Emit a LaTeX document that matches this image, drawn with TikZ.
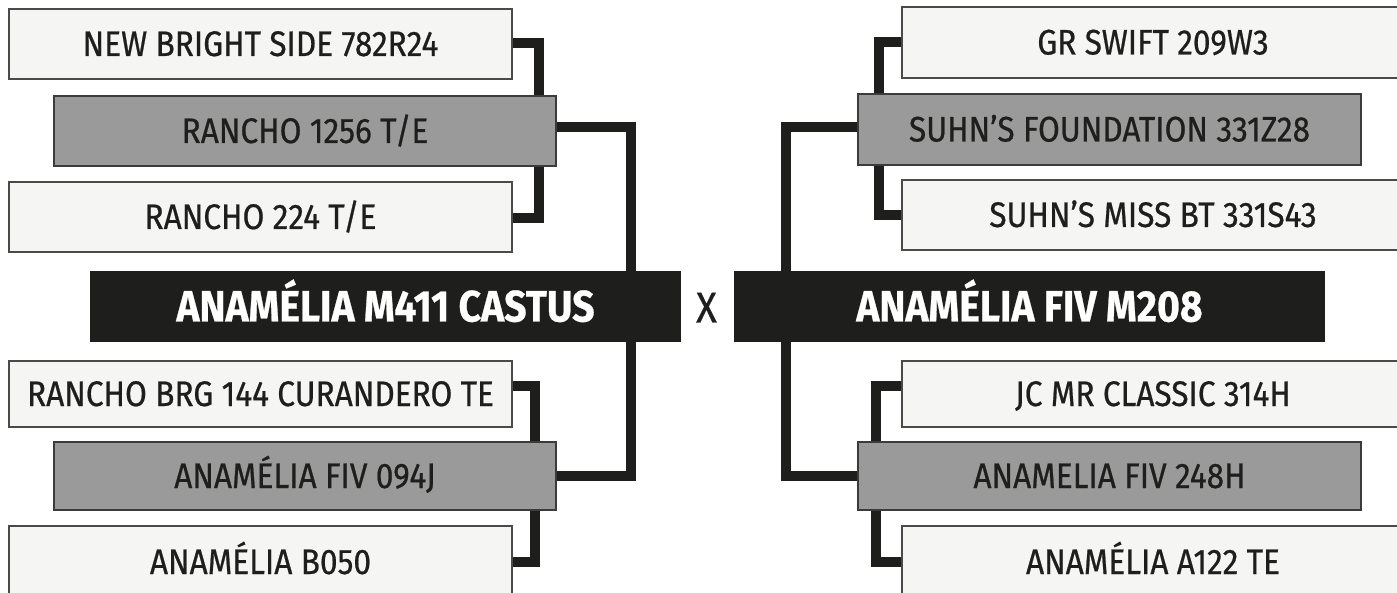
\documentclass[tikz,border=0pt]{standalone}
\usepackage{fontspec}
\setmainfont{Fira Sans}[FakeStretch=0.89, FakeBold=0.6]
\usetikzlibrary{backgrounds}
\definecolor{lightfill}{HTML}{F5F5F3}
\definecolor{grayfill}{HTML}{9A9A9A}
\definecolor{inkblack}{HTML}{1E1E1C}
\definecolor{edgegray}{HTML}{4A4A4A}
\tikzset{
  boxbase/.style={rectangle, inner sep=0pt, text height=24pt, text depth=0pt,
    font=\fontsize{35.5}{38}\selectfont, text=inkblack, line width=1.3pt},
  lightbox/.style={boxbase, fill=lightfill, draw=edgegray},
  graybox/.style={boxbase, fill=grayfill, draw=edgegray!80!black},
  mainbox/.style={rectangle, inner sep=0pt, fill=inkblack, text=white,
    text height=30pt, text depth=0pt, font=\bfseries\fontsize{44}{47}\selectfont},
  conn/.style={draw=inkblack, line width=10pt, line join=miter, line cap=butt},
}
\newcommand{\bx}[7]{% name, style, x1, y1, x2, y2, text
  \node[#2, minimum width={#5-#3}, minimum height={#6-#4}] (#1) at ({(#3+#5)/2},{(#4+#6)/2}) {#7};}
\begin{document}
\begin{tikzpicture}[x=1pt,y=-1pt]
\useasboundingbox (0,0) rectangle (1397,593);
% left side
\bx{L1}{lightbox}{9}{9}{512}{79}{NEW BRIGHT SIDE 782R24}
\bx{L2}{graybox}{54}{96}{556}{166}{RANCHO 1256 T/E}
\bx{L3}{lightbox}{9}{182}{512}{252}{RANCHO 224 T/E}
\bx{LM}{mainbox}{90}{271}{681}{342}{ANAMÉLIA M411 CASTUS}
\bx{L4}{lightbox}{9}{361}{512}{427}{RANCHO BRG 144 CURANDERO TE}
\bx{L5}{graybox}{54}{442}{556}{510}{ANAMÉLIA FIV 094J}
\bx{L6}{lightbox}{9}{526}{512}{598}{ANAMÉLIA B050}
% right side
\bx{R1}{lightbox}{902}{7}{1404}{78}{GR SWIFT 209W3}
\bx{R2}{graybox}{858}{94}{1361}{165}{SUHN’S FOUNDATION 331Z28}
\bx{R3}{lightbox}{902}{180}{1404}{250}{SUHN’S MISS BT 331S43}
\bx{RM}{mainbox}{734}{271}{1325}{342}{ANAMÉLIA FIV M208}
\bx{R4}{lightbox}{902}{361}{1404}{427}{JC MR CLASSIC 314H}
\bx{R5}{graybox}{858}{442}{1361}{510}{ANAMELIA FIV 248H}
\bx{R6}{lightbox}{902}{526}{1404}{598}{ANAMÉLIA A122 TE}
% cross sign
\node[font=\fontsize{43}{46}\selectfont, text=inkblack, inner sep=0pt, text height=30pt, text depth=0pt] (X) at (706.5,307.5) {X};
% turning points
\coordinate (ltx) at (539,131);
\coordinate (lmx) at (631,306);
\coordinate (lbx) at (535,476);
\coordinate (rtx) at (879,131);
\coordinate (rmx) at (786,306);
\coordinate (rbx) at (876,476);
\begin{scope}[on background layer]
\draw[conn] ([yshift=1pt]L1.center) -| (ltx) |- ([yshift=-1pt]L3.center);
\draw[conn] ([yshift=3.5pt]L2.center) -| (lmx) |- (L5.center);
\draw[conn] ([yshift=8pt]L4.center) -| (lbx) |- (L6.center);
\draw[conn] (R1.center) -| (rtx) |- (R3.center);
\draw[conn] ([yshift=2pt]R2.center) -| (rmx) |- (R5.center);
\draw[conn] ([yshift=8pt]R4.center) -| (rbx) |- (R6.center);
\end{scope}
\end{tikzpicture}
\end{document}
